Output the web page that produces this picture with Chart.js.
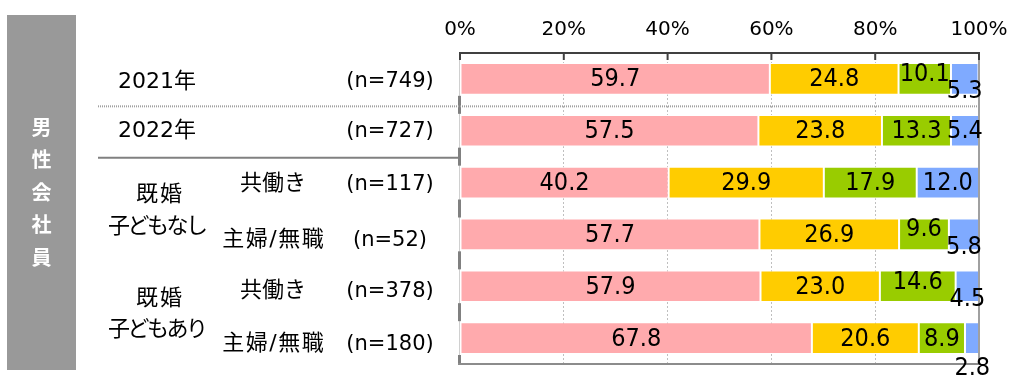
<!DOCTYPE html>
<html><head><meta charset="utf-8">
<script src="https://cdn.jsdelivr.net/npm/chart.js@4.4.1/dist/chart.umd.min.js"></script>
<style>html,body{margin:0;padding:0;background:#fff;overflow:hidden}#wrap{position:relative;width:1010px;height:377px}</style>
</head><body><div id="wrap"><canvas id="c" width="1010" height="377"></canvas></div>
<script>
// ---- data ----
const categories = ['2021年', '2022年', '共働き', '主婦/無職', '共働き', '主婦/無職'];
const sampleSizes = ['(n=749)', '(n=727)', '(n=117)', '(n=52)', '(n=378)', '(n=180)'];
const groupLabels = [['既婚', '子どもなし'], ['既婚', '子どもあり']];
const groupRows = [[2, 3], [4, 5]];
const sideTitle = '男性会社員';
const seriesNames = ['系列1', '系列2', '系列3', '系列4'];
const series1 = [59.7, 57.5, 40.2, 57.7, 57.9, 67.8];
const series2 = [24.8, 23.8, 29.9, 26.9, 23.0, 20.6];
const series3 = [10.1, 13.3, 17.9, 9.6, 14.6, 8.9];
const series4 = [5.3, 5.4, 12.0, 5.8, 4.5, 2.8];
const axisMax = 100;
const axisStep = 20;

// ---- styles / layout ----
const colors = ['#FFAAAD', '#FFCC00', '#99CC00', '#7FAAFF'];
const labelShiftY = [[0,0,0,0,0,0],[0,0,0,0,0,0],[-5,0,0,-6,-5,0],[12,0,0,12,12,29]];
const rowTextShiftY = [3, 1, 2, 6, 5, 6];
const LABEL_FONT = "25px 'DejaVu Sans Condensed', 'Liberation Sans', sans-serif";
const YEAR_FONT = "22px 'DejaVu Sans', 'Noto Sans CJK JP', sans-serif";
const SUB_FONT = "22px 'DejaVu Sans', 'Noto Sans CJK JP', sans-serif";
const N_FONT = "21px 'DejaVu Sans', 'Noto Sans CJK JP', sans-serif";
const GROUP_FONT = "22px 'DejaVu Sans', 'Noto Sans CJK JP', sans-serif";

const allSeries = [series1, series2, series3, series4];

function spaced(ctx, text, x, y, spacing) {
  ctx.letterSpacing = spacing + 'px';
  const dx = ctx.textAlign === 'center' ? spacing / 2 : 0;
  ctx.fillText(text, x + dx, y);
  ctx.letterSpacing = '0px';
}

const decor = {
  id: 'decor',
  beforeDraw(chart) {
    const ctx = chart.ctx;
    ctx.save();
    ctx.fillStyle = '#ffffff';
    ctx.fillRect(0, 0, chart.width, chart.height);
    ctx.fillStyle = '#999999';
    ctx.fillRect(7, 15, 69, 355);
    ctx.fillStyle = '#ffffff';
    ctx.font = "bold 20px 'Noto Sans CJK JP', sans-serif";
    ctx.textAlign = 'center';
    ctx.textBaseline = 'middle';
    [...sideTitle].forEach((ch, i) => ctx.fillText(ch, 41.5, 127 + i * 32.5));
    ctx.restore();
  },
  afterDatasetsDraw(chart) {
    const ctx = chart.ctx;
    const a = chart.chartArea;
    const xs = chart.scales.x, ys = chart.scales.y;
    const rowY = i => ys.getPixelForValue(i);
    const boundary = i => (rowY(i - 1) + rowY(i)) / 2;
    ctx.save();
    ctx.strokeStyle = '#d0d0d0'; ctx.lineWidth = 1;
    ctx.beginPath(); ctx.moveTo(a.left - 0.5, a.top); ctx.lineTo(a.left - 0.5, a.bottom); ctx.stroke();
    ctx.fillStyle = '#808080';
    for (let i = 1; i < categories.length; i++) {
      const yb = boundary(i);
      ctx.fillRect(a.left - 2, yb - 9, 3, 18);
    }
    ctx.fillRect(a.left - 2, a.bottom - 9, 3, 10);
    ctx.strokeStyle = '#a0a0a0'; ctx.lineWidth = 2;
    ctx.beginPath(); ctx.moveTo(a.right, a.top); ctx.lineTo(a.right, a.bottom); ctx.stroke();
    ctx.strokeStyle = '#8c8c8c'; ctx.lineWidth = 2;
    ctx.beginPath(); ctx.moveTo(a.left - 2, a.bottom); ctx.lineTo(a.right + 1, a.bottom); ctx.stroke();
    ctx.strokeStyle = '#404040'; ctx.lineWidth = 2;
    xs.ticks.forEach(t => {
      const x = xs.getPixelForValue(t.value);
      ctx.beginPath(); ctx.moveTo(x, a.top); ctx.lineTo(x, a.top + 7); ctx.stroke();
    });
    const y1 = boundary(1) + 1.5;
    ctx.strokeStyle = '#a0a0a0'; ctx.lineWidth = 2; ctx.setLineDash([1, 1]);
    ctx.beginPath(); ctx.moveTo(98, y1); ctx.lineTo(a.right, y1); ctx.stroke();
    ctx.setLineDash([]);
    const y2 = boundary(2) + 1;
    ctx.strokeStyle = '#808080'; ctx.lineWidth = 2;
    ctx.beginPath(); ctx.moveTo(98, y2); ctx.lineTo(a.left - 2, y2); ctx.stroke();

    // data labels
    ctx.fillStyle = '#000000';
    ctx.font = LABEL_FONT;
    ctx.textAlign = 'center';
    ctx.textBaseline = 'middle';
    chart.data.datasets.forEach((ds, d) => {
      const meta = chart.getDatasetMeta(d);
      meta.data.forEach((el, i) => {
        const v = ds.data[i];
        const cx = (el.x + el.base) / 2;
        ctx.fillText(v.toFixed(1), cx, el.y + 1 + labelShiftY[d][i]);
      });
    });

    // left labels
    ctx.fillStyle = '#000000';
    categories.forEach((c, i) => {
      const y = rowY(i) + rowTextShiftY[i];
      if (i < 2) {
        ctx.font = YEAR_FONT; ctx.textAlign = 'left'; ctx.fillText(c, 118, y);
      } else {
        ctx.font = SUB_FONT; ctx.textAlign = 'center';
        spaced(ctx, c, 273, y, c.length > 3 ? 1.5 : 0);
      }
      ctx.font = N_FONT; ctx.textAlign = 'center';
      ctx.fillText(sampleSizes[i], 390, y);
    });
    ctx.textAlign = 'center';
    ctx.font = GROUP_FONT;
    groupLabels.forEach((g, k) => {
      const mid = (rowY(groupRows[k][0]) + rowY(groupRows[k][1])) / 2;
      spaced(ctx, g[0], 159, mid - 13, 2);
      spaced(ctx, g[1], 158, mid + 18.5, -2.5);
    });
    ctx.restore();
  }
};

new Chart(document.getElementById('c'), {
  type: 'bar',
  data: {
    labels: categories,
    datasets: allSeries.map((s, k) => ({
      label: seriesNames[k],
      data: s,
      backgroundColor: colors[k],
      borderColor: '#ffffff',
      borderWidth: 1,
      borderSkipped: false,
      barPercentage: 0.61,
      categoryPercentage: 1.0
    }))
  },
  options: {
    indexAxis: 'y',
    responsive: false,
    animation: false,
    devicePixelRatio: 1,
    layout: { padding: { left: 460, right: 31, top: 13, bottom: 13 } },
    plugins: { legend: { display: false }, tooltip: { enabled: false } },
    scales: {
      x: {
        position: 'top',
        stacked: true,
        min: 0, max: axisMax,
        afterFit(scale) { scale.height = 40; },
        ticks: {
          stepSize: axisStep,
          padding: 0,
          color: '#000000',
          font: { family: "'DejaVu Sans', sans-serif", size: 20 },
          callback: v => v + '%'
        },
        grid: {
          drawTicks: true,
          tickLength: 11,
          tickColor: 'rgba(0,0,0,0)',
          color: ctx => (ctx.tick && (ctx.tick.value === 0 || ctx.tick.value === axisMax)) ? 'rgba(0,0,0,0)' : '#bfbfbf',
          lineWidth: 1
        },
        border: { display: true, color: '#404040', width: 2, dash: [2, 2] }
      },
      y: {
        stacked: true,
        display: false
      }
    }
  },
  plugins: [decor]
});
</script>
</body></html>
